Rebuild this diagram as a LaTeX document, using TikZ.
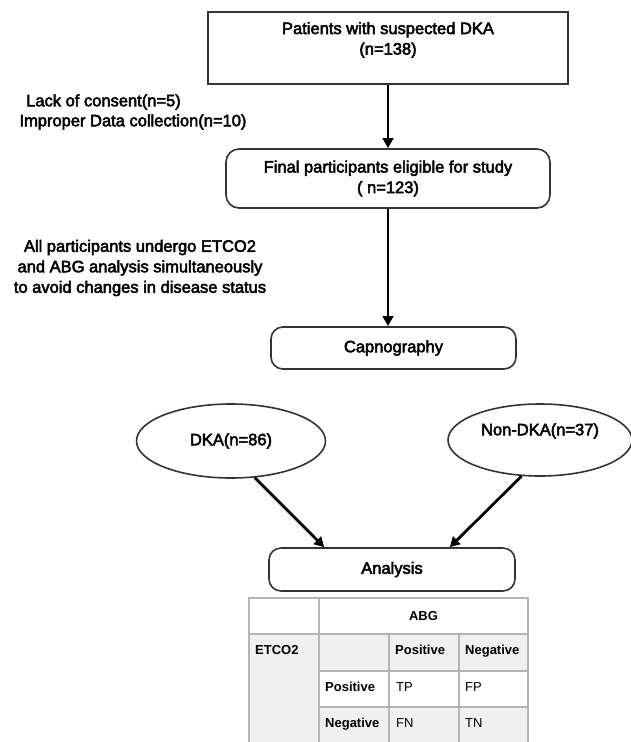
\documentclass[tikz,border=0pt]{standalone}
\usepackage{fontspec}
\setmainfont{Liberation Sans}
\newfontfamily\medfont[FakeBold=3]{Liberation Sans}
\usetikzlibrary{shapes.geometric,arrows.meta}
\definecolor{boxline}{HTML}{333333}
\definecolor{tabline}{HTML}{B4B4B4}
\definecolor{tabfill}{HTML}{F0F0F0}

\begin{document}
\begin{tikzpicture}[x=1pt, y=-1pt]
    \tikzstyle{flowtext}=[font=\medfont\fontsize{16.5}{20.5}\selectfont, align=center, inner sep=0pt]
    \tikzstyle{flowbox}=[draw=boxline, line width=1.6pt, flowtext]
    \tikzstyle{roundbox}=[flowbox, rounded corners=13pt]
    \tikzstyle{groupnode}=[flowbox, ellipse]
    \tikzstyle{flowarrow}=[line width=2.8pt, -{Triangle[length=10pt,width=10.5pt]}]
    \tikzstyle{cellhead}=[font=\bfseries\fontsize{13}{15}\selectfont, anchor=base west, inner sep=0pt]
    \tikzstyle{cellval}=[font=\fontsize{13}{15}\selectfont, anchor=base west, inner sep=0pt]

    \useasboundingbox (0,0) rectangle (631,742);

    \node[flowbox, minimum width=360pt, minimum height=72pt] (patients) at (388,48) {};
    \node[flowtext] (patientstxt) at (388,40) {Patients with suspected DKA\\(n=138)};
    \node[roundbox, minimum width=324pt, minimum height=59pt] (final) at (388,178.5) {Final participants eligible for study\\( n=123)};
    \node[roundbox, rounded corners=12pt, minimum width=245pt, minimum height=42pt] (capno) at (393.5,348) {Capnography};
    \node[groupnode, minimum width=189pt, minimum height=74pt] (dka) at (231,441) {DKA(n=86)};
    \node[groupnode, minimum width=184pt, minimum height=72pt] (nondka) at (540,440) {};
    \node[flowtext] (nondkatxt) at (540,431) {Non-DKA(n=37)};
    \node[roundbox, rounded corners=12pt, minimum width=246pt, minimum height=43pt] (analysis) at (392,569.5) {Analysis};

    \node[flowtext] (lack) at (103.5,102) {Lack of consent(n=5)};
    \node[flowtext] (improper) at (133,122) {Improper Data collection(n=10)};
    \node[flowtext] (allpart) at (140,268) {All participants undergo ETCO2\\and ABG analysis simultaneously\\to avoid changes in disease status};

    \draw[flowarrow] (patients.south) -- (final.north);
    \draw[flowarrow] (final.south) -- (final.south |- capno.north);
    \draw[flowarrow] (dka.-57) -- ([xshift=56pt]analysis.north west);
    \draw[flowarrow] (nondka.-117) -- ([xshift=-66pt]analysis.north east);

    % confusion table
    \fill[tabfill] (249,634) rectangle (319,745);
    \fill[tabfill] (319,634) rectangle (528,671);
    \fill[tabfill] (319,707) rectangle (528,745);
    \draw[tabline, line width=1.3pt] (249,745) |- (528,598) -- (528,745);
    \draw[tabline, line width=1.3pt] (249,634) -- (528,634);
    \foreach \y in {671,707}
        \draw[tabline, line width=1.3pt] (319,\y) -- (528,\y);
    \draw[tabline, line width=1.3pt] (319,598) -- (319,745);
    \foreach \x in {389,459}
        \draw[tabline, line width=1.3pt] (\x,634) -- (\x,745);

    \node[cellhead, anchor=base] (abg) at (423.5,620) {ABG};
    \node[cellhead] (etco) at (255,654) {ETCO2};
    \node[cellhead] (abgpos) at (395,654) {Positive};
    \node[cellhead] (abgneg) at (465,654) {Negative};
    \node[cellhead] (etpos) at (325,691) {Positive};
    \node[cellhead] (etneg) at (325,727) {Negative};
    \node[cellval] (tp) at (396,691) {TP};
    \node[cellval] (fp) at (465,691) {FP};
    \node[cellval] (fn) at (396,727) {FN};
    \node[cellval] (tn) at (465,727) {TN};
\end{tikzpicture}
\end{document}
